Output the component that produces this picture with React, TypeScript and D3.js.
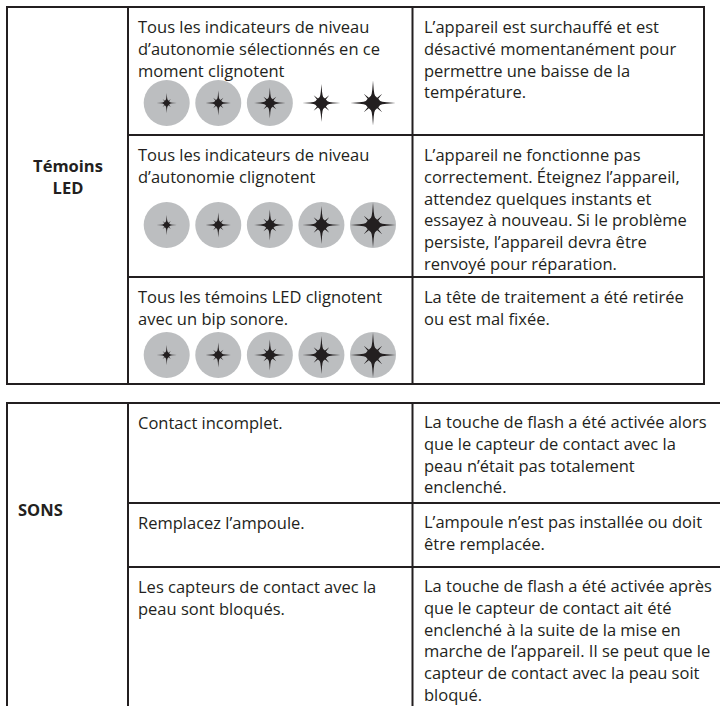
import * as d3 from "d3";
import React from "react";

// table content, one entry per row
const ledLabel = ["Témoins", "LED"];
const soundLabel = ["SONS"];

const ledSignals = [
  ["Tous les indicateurs de niveau", "d’autonomie sélectionnés en ce", "moment clignotent"],
  ["Tous les indicateurs de niveau", "d’autonomie clignotent"],
  ["Tous les témoins LED clignotent", "avec un bip sonore."],
];
const ledCauses = [
  ["L’appareil est surchauffé et est", "désactivé momentanément pour", "permettre une baisse de la", "température."],
  ["L’appareil ne fonctionne pas", "correctement. Éteignez l’appareil,", "attendez quelques instants et", "essayez à nouveau. Si le problème", "persiste, l’appareil devra être", "renvoyé pour réparation."],
  ["La tête de traitement a été retirée", "ou est mal fixée."],
];
// which of the five level indicators sit on a grey disc
const ledDiscs = [
  [true, true, true, false, false],
  [true, true, true, true, true],
  [true, true, true, true, true],
];
const starSizes = [10, 12.5, 15.5, 19, 22.5];

const soundSignals = [
  ["Contact incomplet."],
  ["Remplacez l’ampoule."],
  ["Les capteurs de contact avec la", "peau sont bloqués."],
];
const soundCauses = [
  ["La touche de flash a été activée alors", "que le capteur de contact avec la", "peau n’était pas totalement", "enclenché."],
  ["L’ampoule n’est pas installée ou doit", "être remplacée."],
  ["La touche de flash a été activée après", "que le capteur de contact ait été", "enclenché à la suite de la mise en", "marche de l’appareil. Il se peut que le", "capteur de contact avec la peau soit", "bloqué."],
];

// layout
const W = 720, H = 706;
const ink = "#231f20";
const grey = "#bcbec0";
const font = "'Open Sans', sans-serif";
const fs = 16.5;
const lh = 21.8;
const cols = [7, 128, 412.5, 704];
const ledRows = [7, 135, 277, 384];
const soundRows = [403, 503, 567, 720];
const ledY = [103, 225, 355];

const xLed = d3.scalePoint<number>().domain([0, 1, 2, 3, 4]).range([166.7, 373]);

// one quadrant of the star outline: [degrees, fraction of R]
const quadrant: [number, number][] = [
  [0, 1], [3, 0.6], [8, 0.42], [16, 0.33], [38, 0.3], [45, 0.58], [52, 0.3], [74, 0.33], [82, 0.42], [87, 0.6],
];
const star = (R: number) => {
  const pts = d3.range(4).flatMap((q) =>
    quadrant.map(([a, f]) => [((a + q * 90) * Math.PI) / 180, f * R] as [number, number])
  );
  return d3.lineRadial().angle((d) => d[0]).radius((d) => d[1]).curve(d3.curveLinearClosed)(pts) || "";
};

const Lines = ({ lines, x, y, bold = false, anchor = "start" }: any) => (
  <text x={x} y={y} fill={ink} fontFamily={font} fontSize={fs} fontWeight={bold ? 700 : 400} textAnchor={anchor}>
    {lines.map((l: string, i: number) => (
      <tspan key={i} x={x} dy={i === 0 ? 0 : lh}>{l}</tspan>
    ))}
  </text>
);

const Grid = ({ rows, right, closed }: { rows: number[]; right: number; closed: boolean }) => (
  <g stroke={ink} strokeWidth={2} fill="none">
    {rows.map((y, i) => (
      <line key={"h" + i} x1={i === 0 || i === rows.length - 1 ? cols[0] - 1 : cols[1]} x2={right + 1} y1={y} y2={y} />
    ))}
    {(closed ? cols : cols.slice(0, 3)).map((x, i) => (
      <line key={"v" + i} x1={x} x2={x} y1={rows[0]} y2={rows[rows.length - 1]} />
    ))}
  </g>
);

export default function App() {
  return (
    <div style={{ position: "absolute", left: 0, top: 0, background: "#fff" }}>
      <svg width={W} height={H} viewBox={`0 0 ${W} ${H}`}>
        <rect width={W} height={H} fill="#fff" />
        <Grid rows={ledRows} right={cols[3]} closed />
        <Grid rows={soundRows} right={730} closed={false} />

        <Lines lines={ledLabel} x={68} y={172} bold anchor="middle" />
        {ledSignals.map((lines, i) => (
          <Lines key={i} lines={lines} x={138} y={ledRows[i] + 26} />
        ))}
        {ledCauses.map((lines, i) => (
          <Lines key={i} lines={lines} x={424} y={ledRows[i] + 26} />
        ))}
        {ledDiscs.map((row, i) => (
          <g key={i} transform={`translate(0,${ledY[i]})`}>
            {row.map((disc, j) => (
              <g key={j} transform={`translate(${xLed(j)},0)`}>
                {disc && <circle r={23} fill={grey} />}
                <path d={star(starSizes[j])} fill={ink} />
              </g>
            ))}
          </g>
        ))}

        <Lines lines={soundLabel} x={18} y={516} bold />
        {soundSignals.map((lines, i) => (
          <Lines key={i} lines={lines} x={138} y={soundRows[i] + 26} />
        ))}
        {soundCauses.map((lines, i) => (
          <Lines key={i} lines={lines} x={424} y={soundRows[i] + 25} />
        ))}
      </svg>
    </div>
  );
}
